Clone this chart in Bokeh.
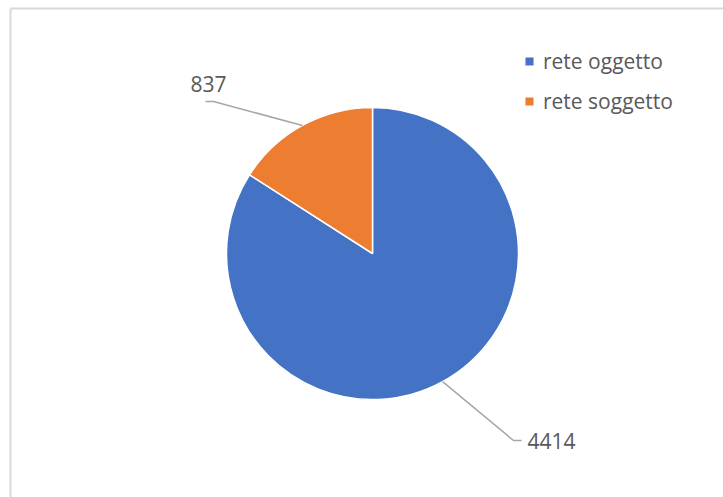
import numpy as np
from bokeh.plotting import figure
from bokeh.models import Range1d, Legend, LegendItem, ColumnDataSource
from bokeh.core.properties import value
from bokeh.embed import file_html
from bokeh.resources import INLINE

# ---- data ----
categories = ["rete oggetto", "rete soggetto"]
counts = [4414, 837]
colors = ["#4472C4", "#ED7D31"]

# ---- layout ----
W, H = 723, 497
cx, cy, R = 372, H - 253, 146
FONT = "Open Sans"
TXT = "#595959"

p = figure(width=W, height=H, x_range=Range1d(0, W), y_range=Range1d(0, H),
           output_backend="svg", toolbar_location=None, min_border=0,
           x_axis_type=None, y_axis_type=None)
p.grid.visible = False
p.outline_line_color = None
p.background_fill_color = "white"
p.border_fill_color = "white"

# chart-area border (top and left edges visible)
p.segment(x0=[10, 10], y0=[H - 8, H - 8], x1=[W, 10], y1=[H - 8, 0],
          line_color="#d9d9d9", line_width=2)

total = float(sum(counts))
frac = np.array(counts) / total
ends = np.pi / 2 - 2 * np.pi * np.cumsum(frac)
starts = np.concatenate([[np.pi / 2], ends[:-1]])
mids = (starts + ends) / 2

src = ColumnDataSource(dict(x=[cx] * len(counts), y=[cy] * len(counts),
                            start=starts, end=ends, color=colors, cat=categories))
wr = p.wedge(x="x", y="y", radius=R, start_angle="start", end_angle="end",
             direction="clock", fill_color="color", line_color="white",
             line_width=1.5, source=src)

# leader lines + data labels
ex = cx + R * np.cos(mids)
ey = cy + R * np.sin(mids)
# elbow and end of each leader line, label anchors (layout)
elbow = [(513, H - 440), (213, H - 101)]
tail = [(521, H - 440), (205, H - 101)]
lab_pos = [(527, H - 440), (190, H - 83)]

lx = [[ex[i], elbow[i][0], tail[i][0]] for i in range(len(counts))]
ly = [[ey[i], elbow[i][1], tail[i][1]] for i in range(len(counts))]
p.multi_line(xs=lx, ys=ly, line_color="#a6a6a6", line_width=1.5)

p.text(x=[lp[0] for lp in lab_pos], y=[lp[1] for lp in lab_pos],
       text=[str(c) for c in counts], text_font=value(FONT),
       text_font_size="21px", text_color=TXT, text_baseline="alphabetic",
       text_align="left")

items = [LegendItem(label=categories[i], renderers=[wr], index=i)
         for i in range(len(categories))]
leg = Legend(items=items, location=(523, H - 115), orientation="vertical",
             glyph_width=12, glyph_height=12, label_height=20,
             label_standoff=8, spacing=12, padding=0, margin=0,
             label_text_font=FONT, label_text_font_size="21px",
             label_text_color=TXT, border_line_alpha=0,
             background_fill_alpha=0)
p.add_layout(leg)

open("out.html", "w").write(file_html(p, INLINE))
